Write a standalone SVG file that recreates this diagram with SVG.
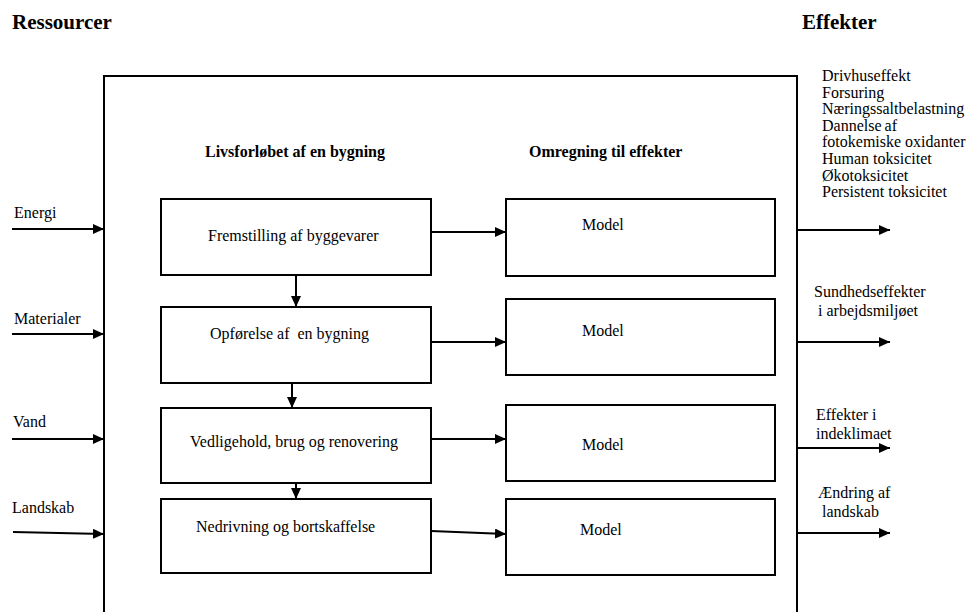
<svg xmlns="http://www.w3.org/2000/svg" width="966" height="612" viewBox="0 0 966 612">
<defs>
<marker id="ah" viewBox="0 0 11 10" refX="11" refY="5" markerWidth="11" markerHeight="10" markerUnits="userSpaceOnUse" orient="auto"><path d="M0,0 L11,5 L0,10 z" fill="#000"/></marker>
<style>
text{font-size:16px;fill:#000}
.b{font-weight:bold}
.h{font-size:21px}
.box{fill:#fff;stroke:#000;stroke-width:2}
.c{fill:none;stroke:#000;stroke-width:2;marker-end:url(#ah)}
</style>
</defs>
<rect width="966" height="612" fill="#fff"/>
<g font-family="Liberation Serif">
<text class="b h" x="12" y="29">Ressourcer</text>
<text class="b h" x="802" y="29">Effekter</text>
<g id="frame"><path d="M104,640 V76 H797 V640" fill="none" stroke="#000" stroke-width="2"/></g>
<text class="b" x="205" y="157">Livsforløbet af en bygning</text>
<text class="b" x="529" y="157">Omregning til effekter</text>
<g id="res-energi"><text x="14" y="218">Energi</text></g>
<g id="res-materialer"><text x="14" y="324">Materialer</text></g>
<g id="res-vand"><text x="13" y="427">Vand</text></g>
<g id="res-landskab"><text x="12" y="513">Landskab</text></g>
<g id="n1"><rect class="box" x="161" y="199" width="270" height="76"/><text x="208" y="241">Fremstilling af byggevarer</text></g>
<g id="n2"><rect class="box" x="161" y="307" width="270" height="76"/><text x="210" y="339" xml:space="preserve">Opførelse af  en bygning</text></g>
<g id="n3"><rect class="box" x="161" y="408" width="270" height="75"/><text x="190" y="447">Vedligehold, brug og renovering</text></g>
<g id="n4"><rect class="box" x="161" y="499" width="270" height="74"/><text x="196" y="532">Nedrivning og bortskaffelse</text></g>
<g id="m1"><rect class="box" x="506" y="199" width="269" height="77"/><text x="582" y="230">Model</text></g>
<g id="m2"><rect class="box" x="506" y="299" width="269" height="76"/><text x="582" y="336">Model</text></g>
<g id="m3"><rect class="box" x="506" y="405" width="269" height="76"/><text x="582" y="450">Model</text></g>
<g id="m4"><rect class="box" x="506" y="499" width="269" height="76"/><text x="580" y="535">Model</text></g>
<g id="eff1">
<text x="822" y="81">Drivhuseffekt</text>
<text x="822" y="97.5">Forsuring</text>
<text x="822" y="114">Næringssaltbelastning</text>
<text x="822" y="130.5">Dannelse<tspan dx="3">af</tspan></text>
<text x="822" y="147">fotokemiske oxidanter</text>
<text x="822" y="164">Human toksicitet</text>
<text x="822" y="180.5">Økotoksicitet</text>
<text x="822" y="197">Persistent toksicitet</text>
</g>
<g id="eff2"><text x="814" y="297">Sundhedseffekter</text><text x="818" y="316">i arbejdsmiljøet</text></g>
<g id="eff3"><text x="816" y="420">Effekter i</text><text x="816" y="439">indeklimaet</text></g>
<g id="eff4"><text x="818" y="498">Ændring af</text><text x="822" y="517">landskab</text></g>
</g>
<g id="connectors">
<path class="c" d="M12,229 H104"/>
<path class="c" d="M12,334 H104"/>
<path class="c" d="M12,439 H104"/>
<path class="c" d="M13,532 L104,534"/>
<path class="c" d="M296,275 V307"/>
<path class="c" d="M292,383 V408"/>
<path class="c" d="M296,483 V499"/>
<path class="c" d="M431,232 H506"/>
<path class="c" d="M431,342 H506"/>
<path class="c" d="M431,439 H506"/>
<path class="c" d="M431,531 L506,534"/>
<path class="c" d="M797,230 H890"/>
<path class="c" d="M797,342 H890"/>
<path class="c" d="M797,448 H890"/>
<path class="c" d="M797,533 H890"/>
</g>
</svg>
